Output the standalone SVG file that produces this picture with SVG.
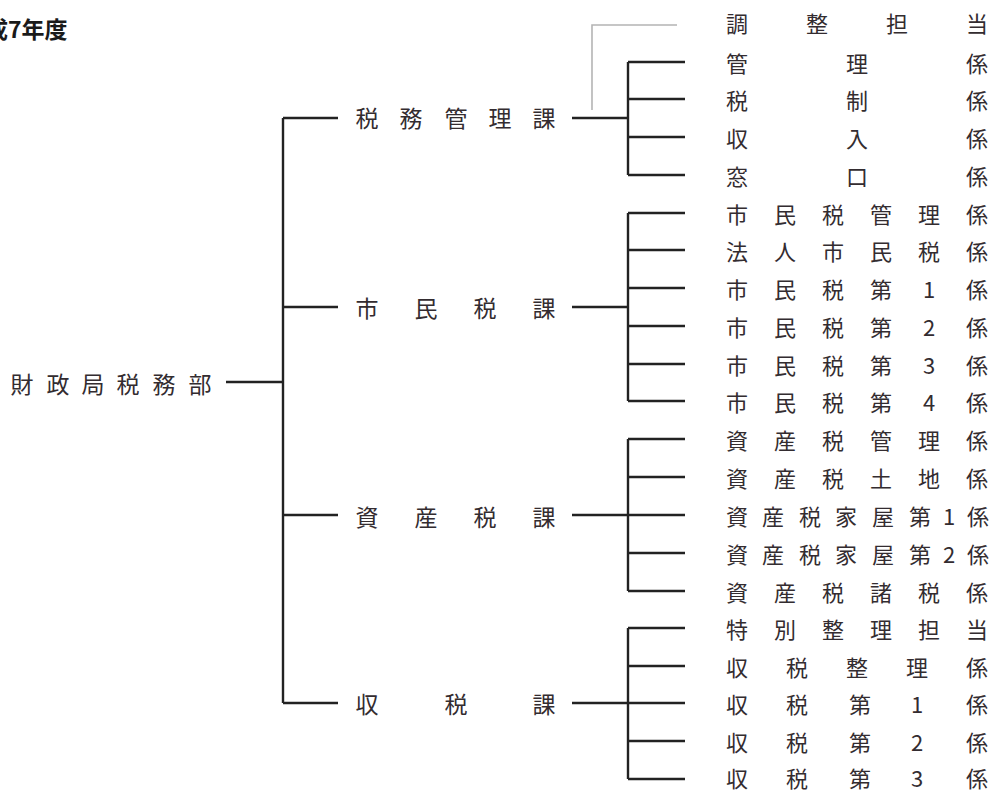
<svg xmlns="http://www.w3.org/2000/svg" width="992" height="794" viewBox="0 0 992 794">
<style>
  .t { font-family: "Noto Sans CJK JP", "Noto Sans", sans-serif; font-size: 23px; fill: #332c30; text-anchor: middle; dominant-baseline: central; }
  .r { font-size: 22px; }
  .title { font-family: "Noto Sans CJK JP", "Noto Sans", sans-serif; font-size: 23px; font-weight: bold; fill: #1a1a1a; }
  .ln { stroke: #222; stroke-width: 2.4; fill: none; }
  .lt { stroke: #b4b4b4; stroke-width: 1.6; fill: none; }
</style>
<rect width="992" height="794" fill="#ffffff"/>
<text class="title" x="-15" y="38">成7年度</text>

<g id="connectors">
  <path class="ln" d="M226,382 H283 M283,118 V703 M283,118 H338 M283,307 H338 M283,515 H338 M283,703 H338"/>
  <path class="ln" d="M572,118 H628 M628,62 V175 M628,62 H685 M628,99 H685 M628,137 H685 M628,175 H685"/>
  <path class="lt" d="M592,110 V25 H677"/>
  <path class="ln" d="M572,307 H628 M628,213 V401 M628,213 H685 M628,250 H685 M628,288 H685 M628,326 H685 M628,364 H685 M628,401 H685"/>
  <path class="ln" d="M572,515 H628 M628,439 V591 M628,439 H685 M628,477 H685 M628,515 H685 M628,553 H685 M628,591 H685"/>
  <path class="ln" d="M572,703 H628 M628,628 V779 M628,628 H685 M628,666 H685 M628,703 H685 M628,741 H685 M628,779 H685"/>
</g>

<g id="root"><text class="t" x="22 58 93 128 164 200" y="383">財政局税務部</text></g>

<g id="zeimu-kanri"><text class="t" x="367 411 456 500 544" y="117">税務管理課</text></g>
<g id="shiminzei"><text class="t" x="367 426 485 544" y="307">市民税課</text></g>
<g id="shisanzei"><text class="t" x="367 426 485 544" y="516">資産税課</text></g>
<g id="shuzei"><text class="t" x="367 456 544" y="703">収税課</text></g>

<g id="chosei"><text class="t r" x="737 817 897 977" y="22">調整担当</text></g>
<g id="kanri"><text class="t r" x="737 857 977" y="62">管理係</text></g>
<g id="zeisei"><text class="t r" x="737 857 977" y="99">税制係</text></g>
<g id="shunyu"><text class="t r" x="737 857 977" y="137">収入係</text></g>
<g id="madoguchi"><text class="t r" x="737 857 977" y="175">窓口係</text></g>

<g id="shiminzei-kanri"><text class="t r" x="737 785 833 881 929 977" y="213">市民税管理係</text></g>
<g id="hojin"><text class="t r" x="737 785 833 881 929 977" y="250">法人市民税係</text></g>
<g id="shimin1"><text class="t r" x="737 785 833 881 929 977" y="288">市民税第1係</text></g>
<g id="shimin2"><text class="t r" x="737 785 833 881 929 977" y="326">市民税第2係</text></g>
<g id="shimin3"><text class="t r" x="737 785 833 881 929 977" y="364">市民税第3係</text></g>
<g id="shimin4"><text class="t r" x="737 785 833 881 929 977" y="401">市民税第4係</text></g>

<g id="shisan-kanri"><text class="t r" x="737 785 833 881 929 977" y="439">資産税管理係</text></g>
<g id="shisan-tochi"><text class="t r" x="737 785 833 881 929 977" y="477">資産税土地係</text></g>
<g id="kaoku1"><text class="t r" x="737 773 810 846 883 920 949 978" y="515">資産税家屋第1係</text></g>
<g id="kaoku2"><text class="t r" x="737 773 810 846 883 920 949 978" y="553">資産税家屋第2係</text></g>
<g id="shozei"><text class="t r" x="737 785 833 881 929 977" y="591">資産税諸税係</text></g>

<g id="tokubetsu"><text class="t r" x="737 785 833 881 929 977" y="628">特別整理担当</text></g>
<g id="shuzei-seiri"><text class="t r" x="737 797 857 917 977" y="666">収税整理係</text></g>
<g id="shuzei1"><text class="t r" x="737 797 860 917 977" y="703">収税第1係</text></g>
<g id="shuzei2"><text class="t r" x="737 797 860 917 977" y="741">収税第2係</text></g>
<g id="shuzei3"><text class="t r" x="737 797 860 917 977" y="777">収税第3係</text></g>
</svg>
